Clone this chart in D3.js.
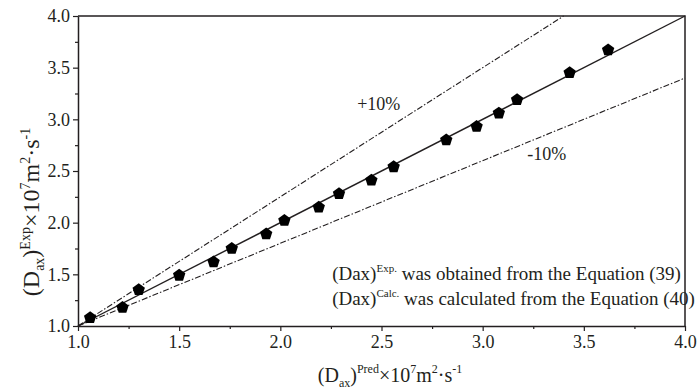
<!DOCTYPE html>
<html>
<head>
<meta charset="utf-8">
<script src="https://cdn.jsdelivr.net/npm/d3@7"></script>
<style>
    body { margin: 0; background: #fff; }
    svg { display: block; font-family: 'Liberation Serif', 'Times New Roman', serif; }
</style>
</head>
<body>
<svg id="chart" width="698" height="391"></svg>
<script>
// Predicted vs experimental values (x 10^7 m2/s)
const predValues = [1.06, 1.22, 1.30, 1.50, 1.67, 1.76, 1.93, 2.02, 2.19, 2.29, 2.45, 2.56, 2.82, 2.97, 3.08, 3.17, 3.43, 3.62];
const expValues = [1.08, 1.18, 1.35, 1.49, 1.62, 1.75, 1.89, 2.02, 2.15, 2.28, 2.41, 2.54, 2.80, 2.93, 3.06, 3.19, 3.45, 3.67];

// reference lines
const parityLine = [[1, 1], [4, 4]];
const upperLine = [[1, 1], [3.4, 4]];
const lowerLine = [[1, 1], [4, 3.4]];

const majorTicks = [1.0, 1.5, 2.0, 2.5, 3.0, 3.5, 4.0];
const minorTicks = [1.25, 1.75, 2.25, 2.75, 3.25, 3.75];

const legendLines = [
    { name: '(Dax)', sup: 'Exp.', rest: ' was obtained from the Equation (39)' },
    { name: '(Dax)', sup: 'Calc.', rest: ' was calculated from the Equation (40)' }
];

const ink = '#231f20';
const svg = d3.select('#chart');

const x = d3.scaleLinear().domain([1, 4]).range([78, 685]);
const y = d3.scaleLinear().domain([1, 4]).range([326, 16]);

// frame (top and right)
svg.append('path')
    .attr('d', 'M' + x(1) + ',' + y(4) + 'H' + x(4) + 'V' + y(1))
    .attr('fill', 'none')
    .attr('stroke', ink)
    .attr('stroke-width', 1.5);

// minor ticks
svg.append('g')
    .attr('transform', 'translate(0,' + y(1) + ')')
    .call(d3.axisBottom(x).tickValues(minorTicks).tickSize(3).tickFormat(''))
    .call(g => g.select('.domain').remove())
    .selectAll('line').attr('stroke', ink).attr('stroke-width', 1.2);

svg.append('g')
    .attr('transform', 'translate(' + x(1) + ',0)')
    .call(d3.axisLeft(y).tickValues(minorTicks).tickSize(3).tickFormat(''))
    .call(g => g.select('.domain').remove())
    .selectAll('line').attr('stroke', ink).attr('stroke-width', 1.2);

// X axis
const xAxis = svg.append('g')
    .attr('transform', 'translate(0,' + y(1) + ')')
    .call(d3.axisBottom(x).tickValues(majorTicks).tickSize(5).tickSizeOuter(0).tickPadding(4).tickFormat(d3.format('.1f')));

// Y axis
const yAxis = svg.append('g')
    .attr('transform', 'translate(' + x(1) + ',0)')
    .call(d3.axisLeft(y).tickValues(majorTicks).tickSize(5).tickSizeOuter(0).tickPadding(3).tickFormat(d3.format('.1f')));

[xAxis, yAxis].forEach(g => {
    g.select('.domain').attr('stroke', ink).attr('stroke-width', 1.5);
    g.selectAll('line').attr('stroke', ink).attr('stroke-width', 1.2);
    g.selectAll('text')
        .attr('fill', ink)
        .style('font-family', 'Liberation Serif')
        .style('font-size', '18px');
});

// Lines
const lineGen = d3.line()
    .x(d => x(d[0]))
    .y(d => y(d[1]));

svg.append('path')
    .attr('d', lineGen(parityLine))
    .attr('stroke', ink)
    .attr('stroke-width', 1.4)
    .attr('fill', 'none');

[upperLine, lowerLine].forEach(l => {
    svg.append('path')
        .attr('d', lineGen(l))
        .attr('stroke', ink)
        .attr('stroke-width', 1.1)
        .attr('stroke-dasharray', '6,2,1.5,2')
        .attr('fill', 'none');
});

// pentagon markers
function pentagon(r) {
    const pts = [];
    for (let i = 0; i < 5; i++) {
        const a = -Math.PI / 2 + i * 2 * Math.PI / 5;
        pts.push([r * Math.cos(a), r * Math.sin(a)]);
    }
    return 'M' + pts.map(p => p[0].toFixed(2) + ',' + p[1].toFixed(2)).join('L') + 'Z';
}

svg.selectAll('.dot')
    .data(predValues)
    .enter()
    .append('path')
    .attr('class', 'dot')
    .attr('d', pentagon(6.5))
    .attr('fill', '#000')
    .attr('transform', (d, i) => 'translate(' + x(d) + ',' + y(expValues[i]) + ')');

// +10% / -10% labels
svg.append('text')
    .attr('x', x(2.38))
    .attr('y', y(3.09))
    .attr('fill', ink)
    .style('font-size', '18px')
    .text('+10%');

svg.append('text')
    .attr('x', x(3.22))
    .attr('y', y(2.61))
    .attr('fill', ink)
    .style('font-size', '18px')
    .text('-10%');

// Legend notes
legendLines.forEach((l, i) => {
    const t = svg.append('text')
        .attr('x', x(2.256))
        .attr('y', y(1.444 - i * 0.242))
        .attr('fill', ink)
        .style('font-size', '19px');
    t.append('tspan').text(l.name);
    t.append('tspan').attr('dy', -8).style('font-size', '11px').text(l.sup);
    t.append('tspan').attr('dy', 8).text(l.rest);
});

// Axis titles
function axisTitle(sel, sup, size) {
    const s = Math.round(size * 0.6);
    sel.append('tspan').text('(D');
    sel.append('tspan').attr('dy', 5).style('font-size', s + 'px').text('ax');
    sel.append('tspan').attr('dy', -5).text(')');
    sel.append('tspan').attr('dy', -9).style('font-size', s + 'px').text(sup);
    sel.append('tspan').attr('dy', 9).text('\u00d710');
    sel.append('tspan').attr('dy', -9).style('font-size', s + 'px').text('7');
    sel.append('tspan').attr('dy', 9).text('m');
    sel.append('tspan').attr('dy', -9).style('font-size', s + 'px').text('2');
    sel.append('tspan').attr('dy', 9).text('\u00b7s');
    sel.append('tspan').attr('dy', -9).style('font-size', s + 'px').text('-1');
}

const xTitle = svg.append('text')
    .attr('x', 390)
    .attr('y', 382)
    .attr('text-anchor', 'middle')
    .attr('fill', ink)
    .style('font-size', '20px');
axisTitle(xTitle, 'Pred', 20);

const yTitle = svg.append('text')
    .attr('transform', 'translate(39,212) rotate(-90)')
    .attr('text-anchor', 'middle')
    .attr('fill', ink)
    .style('font-size', '24px');
axisTitle(yTitle, 'Exp', 24);
</script>
</body>
</html>
